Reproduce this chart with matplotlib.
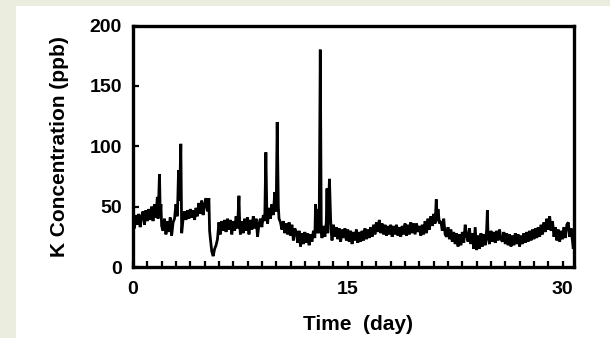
import numpy as np
import matplotlib
matplotlib.use("Agg")
import matplotlib.pyplot as plt
from matplotlib.patches import Rectangle

# K concentration (ppb) vs time (day)
day = [0.0, 0.1, 0.2, 0.3, 0.4, 0.5, 0.6, 0.7, 0.8, 0.9,
       1.0, 1.1, 1.2, 1.3, 1.4, 1.5, 1.6, 1.7, 1.75, 1.85, 1.9, 1.95, 2.0,
       2.1, 2.2, 2.3, 2.4, 2.5, 2.6, 2.7, 2.8, 2.9, 3.0, 3.1, 3.18, 3.25, 3.34, 3.4,
       3.5, 3.6, 3.7, 3.8, 3.9, 4.0, 4.1, 4.2, 4.3, 4.4, 4.5, 4.6, 4.7, 4.8, 4.9,
       5.0, 5.1, 5.2, 5.3, 5.35, 5.4, 5.5, 5.6, 5.7, 5.8, 5.9, 6.0, 6.1, 6.2, 6.3,
       6.4, 6.5, 6.6, 6.7, 6.8, 6.9, 7.0, 7.1, 7.2, 7.3, 7.4, 7.45, 7.5, 7.6, 7.7,
       7.8, 7.9, 8.0, 8.1, 8.2, 8.3, 8.4, 8.5, 8.6, 8.7, 8.8, 8.9, 9.0, 9.1, 9.2,
       9.28, 9.35, 9.4, 9.5, 9.6, 9.7, 9.8, 9.9, 10.0, 10.07, 10.15, 10.2, 10.3,
       10.4, 10.5, 10.6, 10.7, 10.8, 10.9, 11.0, 11.1, 11.2, 11.3, 11.4, 11.5, 11.6,
       11.7, 11.8, 11.9, 12.0, 12.1, 12.2, 12.3, 12.4, 12.5, 12.6, 12.7, 12.75,
       12.85, 12.95, 13.0, 13.08, 13.15, 13.2, 13.3, 13.4, 13.5, 13.55, 13.6, 13.72,
       13.8, 13.85, 13.9, 14.0, 14.1, 14.2, 14.3, 14.4, 14.5, 14.6, 14.7, 14.8, 14.9,
       15.0, 15.1, 15.2, 15.3, 15.4, 15.5, 15.6, 15.7, 15.8, 15.9, 16.0, 16.1, 16.2,
       16.3, 16.4, 16.5, 16.6, 16.7, 16.8, 16.9, 17.0, 17.1, 17.2, 17.3, 17.4, 17.5,
       17.6, 17.7, 17.8, 17.9, 18.0, 18.1, 18.2, 18.3, 18.4, 18.5, 18.6, 18.7, 18.8,
       18.9, 19.0, 19.1, 19.2, 19.3, 19.4, 19.5, 19.6, 19.7, 19.8, 19.9, 20.0, 20.1,
       20.2, 20.3, 20.4, 20.5, 20.6, 20.7, 20.8, 20.9, 21.0, 21.1, 21.18, 21.25, 21.3,
       21.4, 21.5, 21.6, 21.7, 21.8, 21.9, 22.0, 22.1, 22.2, 22.3, 22.4, 22.5, 22.6,
       22.7, 22.8, 22.9, 23.0, 23.1, 23.2, 23.3, 23.4, 23.5, 23.6, 23.7, 23.8, 23.9,
       24.0, 24.1, 24.2, 24.3, 24.4, 24.5, 24.6, 24.7, 24.75, 24.8, 24.9, 25.0, 25.1,
       25.2, 25.3, 25.4, 25.5, 25.6, 25.7, 25.8, 25.9, 26.0, 26.1, 26.2, 26.3, 26.4,
       26.5, 26.6, 26.7, 26.8, 26.9, 27.0, 27.1, 27.2, 27.3, 27.4, 27.5, 27.6, 27.7,
       27.8, 27.9, 28.0, 28.1, 28.2, 28.3, 28.4, 28.5, 28.6, 28.7, 28.8, 28.9, 29.0,
       29.1, 29.2, 29.3, 29.4, 29.5, 29.6, 29.7, 29.8, 29.9, 30.0, 30.1, 30.2, 30.3,
       30.4, 30.5, 30.6, 30.7, 30.75, 30.8]
conc = [42, 32, 43, 35, 44, 33, 42, 46, 35, 47,
        38, 48, 39, 50, 38, 52, 41, 58, 40, 77, 44, 52, 34,
        30, 40, 27, 38, 29, 41, 26, 37, 40, 52, 42, 80, 55, 102, 28,
        40, 46, 39, 47, 40, 48, 41, 47, 39, 49, 42, 53, 44, 55, 43,
        52, 57, 46, 57, 30, 24, 13, 9, 15, 18, 23, 37, 27, 38, 30,
        39, 29, 40, 31, 39, 27, 38, 30, 42, 32, 59, 36, 27, 38, 28,
        40, 30, 41, 27, 39, 31, 42, 32, 40, 25, 36, 40, 33, 43, 38,
        95, 42, 36, 49, 40, 52, 43, 62, 46, 120, 50, 40, 37,
        31, 38, 28, 36, 27, 37, 26, 35, 22, 32, 29, 20, 30,
        17, 28, 19, 29, 20, 28, 18, 27, 21, 30, 24, 52,
        28, 48, 28, 180, 28, 24, 34, 25, 37, 65, 28, 73,
        40, 28, 22, 35, 25, 33, 23, 32, 21, 31, 24, 32, 22,
        31, 21, 30, 19, 29, 22, 31, 20, 29, 21, 30, 22, 32,
        23, 31, 24, 33, 25, 35, 27, 37, 29, 39, 28, 36, 27,
        35, 26, 34, 27, 35, 25, 34, 27, 35, 26, 33, 25, 34,
        27, 36, 26, 35, 27, 37, 28, 36, 27, 36, 29, 34, 26,
        35, 27, 38, 28, 40, 31, 42, 34, 44, 36, 56, 38, 48,
        36, 38, 30, 40, 27, 25, 33, 23, 31, 21, 29, 19, 28,
        17, 27, 18, 29, 20, 35, 26, 21, 32, 19, 28, 15, 33,
        14, 26, 15, 28, 17, 27, 18, 31, 47, 24, 19, 30, 21,
        29, 20, 30, 22, 31, 23, 21, 29, 19, 28, 18, 27, 17,
        26, 18, 28, 19, 27, 17, 26, 19, 28, 20, 29, 21, 30,
        22, 31, 23, 32, 24, 33, 25, 35, 27, 37, 29, 40, 31,
        42, 30, 38, 25, 33, 22, 31, 21, 30, 23, 33, 24, 35,
        37, 25, 32, 21, 15, 28]

yticks = [0, 50, 100, 150, 200]
xticks = [0, 15, 30]

plt.rcParams['font.family'] = ['Liberation Sans', 'DejaVu Sans']
plt.rcParams['font.weight'] = 'bold'

fig = plt.figure(figsize=(6.10, 3.38), dpi=100)
fig.patch.set_facecolor('white')
# pale green border strips of the screenshot
fig.patches.append(Rectangle((0, 0), 15.5/610, 1, transform=fig.transFigure,
                             facecolor='#ebeedf', edgecolor='none', zorder=0))
fig.patches.append(Rectangle((0, 1 - 6/338), 1, 6/338, transform=fig.transFigure,
                             facecolor='#ebeedf', edgecolor='none', zorder=0))

ax = fig.add_axes([133/610, 1 - 267/338, 441/610, 241.5/338])
ax.plot(day, conc, color='black', lw=2.0, solid_joinstyle='miter')

ax.set_xlim(0, 30.8)
ax.set_ylim(0, 200)
ax.set_xticks(xticks)
ax.set_xticks(np.arange(1, 31), minor=True)
ax.set_yticks(yticks)

for s in ax.spines.values():
    s.set_linewidth(2.4)

ax.tick_params(axis='both', which='both', direction='in', length=4, width=1.6,
               labelsize=14, top=False, right=False)
ax.tick_params(axis='x', which='both', pad=10)
ax.tick_params(axis='y', pad=8)
for lab in ax.get_xticklabels() + ax.get_yticklabels():
    lab.set_fontweight('bold')

ax.set_xlabel('Time  (day)', fontsize=15, fontweight='bold', va='center')
ax.xaxis.set_label_coords(0.51, -0.24)
ax.set_ylabel('K Concentration (ppb)', fontsize=15, fontweight='bold', va='center')
ax.yaxis.set_label_coords(-0.166, 0.5)

fig.savefig('out.png', dpi=100)
